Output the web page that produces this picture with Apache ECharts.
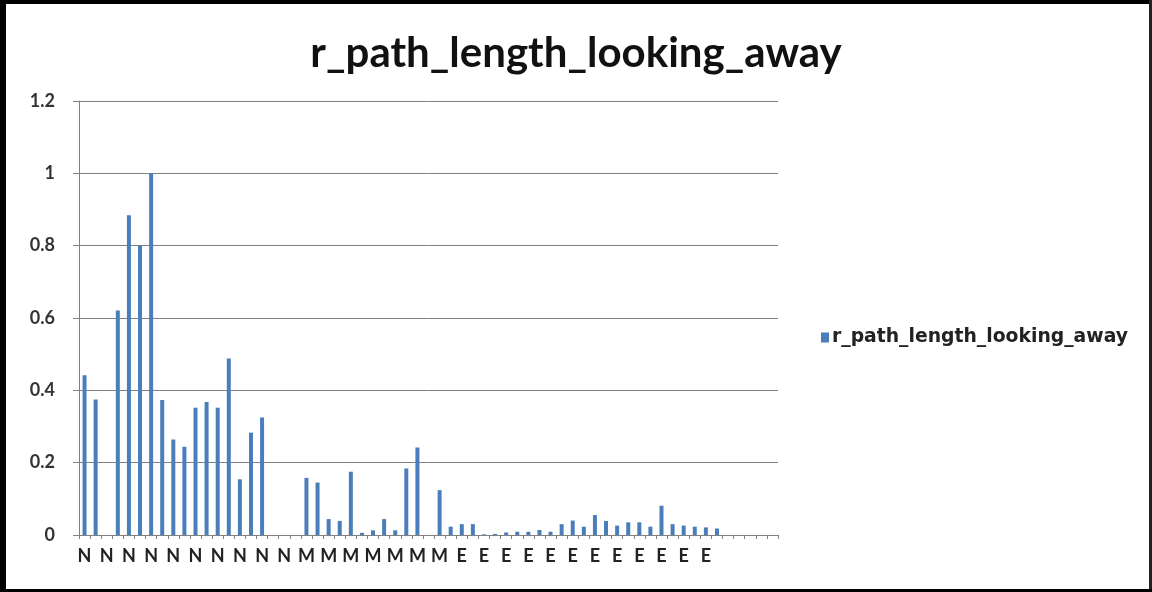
<!DOCTYPE html>
<html>
<head>
<meta charset="utf-8">
<script src="https://cdn.jsdelivr.net/npm/echarts@6/dist/echarts.min.js"></script>
<style>
  html, body { margin: 0; padding: 0; background: #fff; }
  #chart { width: 1152px; height: 592px; }
</style>
</head>
<body>
<div id="chart"></div>
<script>
// ---- data ----
const seriesName = 'r_path_length_looking_away';
const groupLabels = ['N','N','N','N','N','N','N','N','N','N','N','N','N','N','N','N','N','N','N','N',
  'M','M','M','M','M','M','M','M','M','M','M','M','M','M',
  'E','E','E','E','E','E','E','E','E','E','E','E','E','E','E','E','E','E','E','E','E','E','E','E',
  '','','','',''];
const values = [0.442, 0.375, 0, 0.621, 0.884, 0.801, 1.0, 0.373, 0.264, 0.244,
  0.352, 0.368, 0.352, 0.488, 0.154, 0.283, 0.325, 0, 0, 0,
  0.158, 0.145, 0.044, 0.039, 0.175, 0.006, 0.013, 0.044, 0.013, 0.184,
  0.242, 0, 0.124, 0.023, 0.030, 0.030, 0.002, 0.003, 0.007, 0.009,
  0.009, 0.014, 0.009, 0.030, 0.040, 0.023, 0.055, 0.039, 0.026, 0.035,
  0.035, 0.023, 0.081, 0.030, 0.026, 0.023, 0.021, 0.018, 0, 0,
  0, 0, 0];
const yTicks = [0, 0.2, 0.4, 0.6, 0.8, 1, 1.2];

const chart = echarts.init(document.getElementById('chart'));
chart.setOption({
  animation: false,
  backgroundColor: '#ffffff',
  title: {
    text: seriesName,
    left: 'center',
    top: 27,
    textStyle: { fontFamily: 'Lato', fontWeight: 'bold', fontSize: 42, color: '#111' }
  },
  legend: {
    data: [seriesName],
    left: 816,
    top: 323,
    icon: 'rect',
    itemWidth: 8,
    itemHeight: 10,
    itemGap: 4,
    textStyle: { fontFamily: 'DejaVu Sans', fontWeight: 'bold', fontSize: 18.8, color: '#222', padding: [0, 0, 0, -2] }
  },
  grid: { left: 79, right: 374, top: 101, bottom: 57, containLabel: false },
  xAxis: {
    type: 'category',
    data: groupLabels,
    boundaryGap: true,
    axisLine: { lineStyle: { color: '#808080', width: 1 } },
    axisTick: { show: true, interval: 0, length: 4, lineStyle: { color: '#808080' } },
    axisLabel: { interval: 1, margin: 12, fontFamily: 'Lato', fontWeight: 'bold', fontSize: 18, color: '#222' },
    splitLine: { show: false }
  },
  yAxis: {
    type: 'value',
    min: yTicks[0],
    max: yTicks[yTicks.length - 1],
    interval: 0.2,
    axisLine: { show: true, lineStyle: { color: '#808080', width: 1 } },
    axisTick: { show: true, length: 6, lineStyle: { color: '#808080' } },
    axisLabel: { margin: 24, fontFamily: 'Lato', fontWeight: 'bold', fontSize: 18, color: '#333',
      formatter: v => String(Math.round(v * 10) / 10) },
    splitLine: { show: true, lineStyle: { color: '#808080', width: 1 } }
  },
  series: [{
    name: seriesName,
    type: 'bar',
    data: values,
    barWidth: 4,
    itemStyle: { color: '#4a7ebb' }
  }],
  graphic: [
    { type: 'rect', left: 0, top: 0, shape: { width: 6, height: 592 }, style: { fill: '#000' } },
    { type: 'rect', left: 0, top: 0, shape: { width: 1152, height: 4 }, style: { fill: '#000' } },
    { type: 'rect', left: 1149, top: 0, shape: { width: 3, height: 592 }, style: { fill: '#222' } },
    { type: 'rect', left: 0, top: 589, shape: { width: 1152, height: 3 }, style: { fill: '#000' } }
  ]
});
</script>
</body>
</html>
